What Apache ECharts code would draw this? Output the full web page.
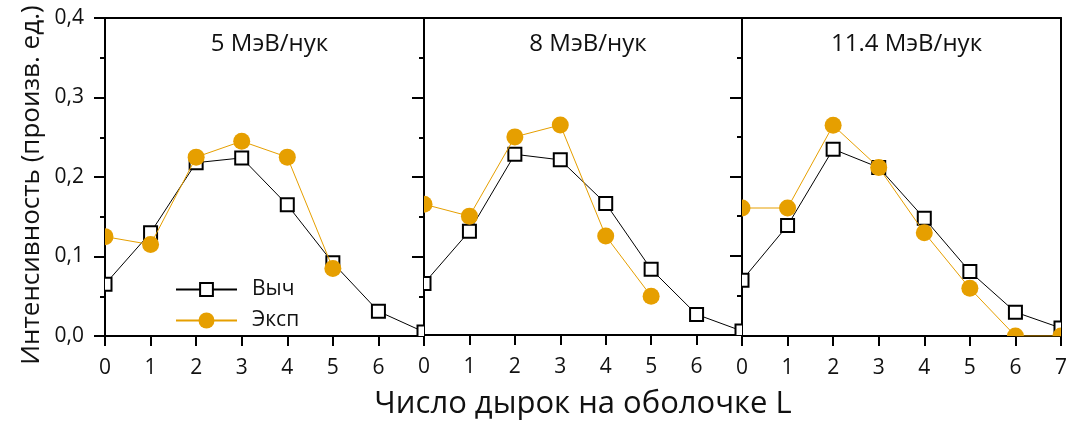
<!DOCTYPE html>
<html>
<head>
<meta charset="utf-8">
<script src="https://cdn.jsdelivr.net/npm/echarts@6/dist/echarts.min.js"></script>
<style>
html,body{margin:0;padding:0;background:#fff;}
#main{width:1070px;height:425px;}
</style>
</head>
<body>
<div id="main"></div>
<script>
// число дырок L
var holes = [0, 1, 2, 3, 4, 5, 6, 7];
var panelTitles = ['5 МэВ/нук', '8 МэВ/нук', '11.4 МэВ/нук'];
var yTicks = [0, 0.1, 0.2, 0.3, 0.4];

// Выч - расчёт
var calc5 = [0.065, 0.130, 0.218, 0.224, 0.165, 0.092, 0.031, 0.005];
var calc8 = [0.065, 0.131, 0.228, 0.221, 0.166, 0.083, 0.026, 0.005];
var calc11 = [0.070, 0.139, 0.235, 0.212, 0.148, 0.081, 0.030, 0.010];
// Эксп - эксперимент
var exp5 = [0.125, 0.115, 0.225, 0.245, 0.225, 0.085];
var exp8 = [0.165, 0.150, 0.250, 0.265, 0.125, 0.049];
var exp11 = [0.161, 0.161, 0.265, 0.212, 0.130, 0.060, 0.000, 0.000];

var calcAll = [calc5, calc8, calc11];
var expAll = [exp5, exp8, exp11];

var FONT = 'Open Sans';
var ORANGE = '#E69F00';

function pairs(vals) {
	var out = [];
	for (var i = 0; i < vals.length; i++) {
		out.push([holes[i], vals[i]]);
	}
	return out;
}

var myChart = echarts.init(document.getElementById('main'));

var lefts = [105, 424, 742];
var widths = [319, 318, 319];
var grids = [], xAxes = [], yAxes = [], titles = [], series = [];

for (var p = 0; p < 3; p++) {
	grids.push({left: lefts[p], top: 18, width: widths[p], height: 318});
	titles.push({
		text: panelTitles[p], left: lefts[p] + widths[p] / 2, top: 27, textAlign: 'center',
		textStyle: {fontFamily: FONT, fontSize: 24, fontWeight: 'normal', color: '#111'}
	});
	// нижняя ось
	xAxes.push({
		type: 'value', gridIndex: p, position: 'bottom', min: holes[0], max: holes[holes.length - 1], interval: 1,
		axisLine: {show: true, onZero: false, lineStyle: {color: '#000', width: 2}},
		axisTick: {show: true, inside: false, length: 10, lineStyle: {color: '#000', width: 2}},
		axisLabel: {
			fontFamily: FONT, fontSize: 21, color: '#111', margin: 22,
			formatter: (function (last) {
				return function (v) { return (v === 7 && !last) ? '' : String(v); };
			})(p === 2)
		},
		splitLine: {show: false},
		name: p === 1 ? 'Число дырок на оболочке L' : '',
		nameLocation: 'middle', nameGap: 54,
		nameTextStyle: {fontFamily: FONT, fontSize: 31, color: '#111'}
	});
	// верхняя рамка
	xAxes.push({
		type: 'value', gridIndex: p, position: 'top', min: 0, max: 7, interval: 1,
		axisLine: {show: true, onZero: false, lineStyle: {color: '#000', width: 2}},
		axisTick: {show: false}, axisLabel: {show: false}, splitLine: {show: false}
	});
	// левая ось
	yAxes.push({
		type: 'value', gridIndex: p, position: 'left', min: 0, max: 0.4, interval: 0.1,
		axisLine: {show: true, onZero: false, lineStyle: {color: '#000', width: 2}},
		axisTick: {show: p === 0, inside: false, length: 11, lineStyle: {color: '#000', width: 2}},
		minorTick: {show: p === 0, splitNumber: 2, length: 5, lineStyle: {color: '#000', width: 2}},
		axisLabel: {
			show: p === 0, fontFamily: FONT, fontSize: 21, color: '#111', margin: 21,
			formatter: function (v) { return v.toFixed(1).replace('.', ','); }
		},
		splitLine: {show: false},
		name: p === 0 ? 'Интенсивность (произв. ед.)' : '',
		nameLocation: 'middle', nameGap: 60,
		nameTextStyle: {fontFamily: FONT, fontSize: 26, color: '#111', padding: [0, 16, 0, 0]}
	});
	// правая рамка
	yAxes.push({
		type: 'value', gridIndex: p, position: 'right', min: 0, max: 0.4, interval: 0.1,
		axisLine: {show: true, onZero: false, lineStyle: {color: '#000', width: 2}},
		axisTick: {show: p < 2, inside: true, length: 12, lineStyle: {color: '#000', width: 2}},
		minorTick: {show: p < 2, splitNumber: 2, length: 5, lineStyle: {color: '#000', width: 2}},
		axisLabel: {show: false}, splitLine: {show: false}
	});

	// Выч: линия + квадраты
	series.push({
		name: 'Выч', type: 'line', xAxisIndex: p * 2, yAxisIndex: p * 2,
		data: pairs(calcAll[p]), showSymbol: false, symbol: 'emptyRect', symbolSize: 13,
		lineStyle: {color: '#000', width: 1}, itemStyle: {color: '#000'},
		clip: true, silent: true, animation: false, z: 2
	});
	series.push({
		type: 'custom', xAxisIndex: p * 2, yAxisIndex: p * 2, clip: true, z: 3, animation: false,
		encode: {x: 0, y: 1},
		data: pairs(calcAll[p]),
		renderItem: function (params, api) {
			var pt = api.coord([api.value(0), api.value(1)]);
			return {type: 'rect', shape: {x: pt[0] - 6.5, y: pt[1] - 6.5, width: 13, height: 13},
				style: {fill: '#fff', stroke: '#000', lineWidth: 2}};
		}
	});
	// Эксп: линия + кружки
	series.push({
		name: 'Эксп', type: 'line', xAxisIndex: p * 2, yAxisIndex: p * 2,
		data: pairs(expAll[p]), showSymbol: false, symbol: 'circle', symbolSize: 16,
		lineStyle: {color: ORANGE, width: 1}, itemStyle: {color: ORANGE},
		clip: true, silent: true, animation: false, z: 4
	});
	series.push({
		type: 'custom', xAxisIndex: p * 2, yAxisIndex: p * 2, clip: true, z: 5, animation: false,
		encode: {x: 0, y: 1},
		data: pairs(expAll[p]),
		renderItem: function (params, api) {
			var pt = api.coord([api.value(0), api.value(1)]);
			return {type: 'circle', shape: {cx: pt[0], cy: pt[1], r: 8.5},
				style: {fill: ORANGE}};
		}
	});
}

var option = {
	backgroundColor: '#fff',
	animation: false,
	title: titles,
	legend: [{
		data: ['Выч'], orient: 'vertical', left: 175, top: 279, padding: 0,
		itemWidth: 61, itemHeight: 16,
		textStyle: {fontFamily: FONT, fontSize: 21, color: '#111', padding: [0, 0, 0, 10]}
	}, {
		data: ['Эксп'], orient: 'vertical', left: 175, top: 310, padding: 0,
		itemWidth: 61, itemHeight: 20,
		textStyle: {fontFamily: FONT, fontSize: 21, color: '#111', padding: [0, 0, 0, 10]}
	}],
	grid: grids,
	xAxis: xAxes,
	yAxis: yAxes,
	series: series
};
myChart.setOption(option);
</script>
</body>
</html>
